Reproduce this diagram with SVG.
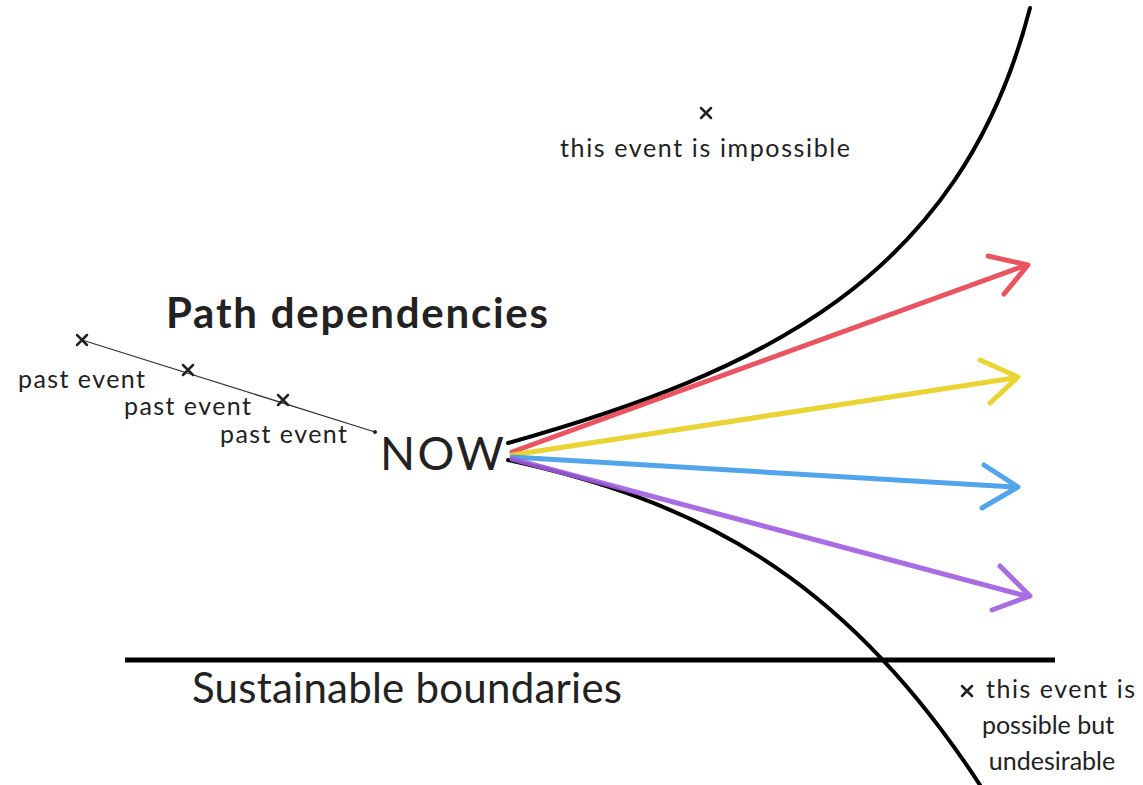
<svg xmlns="http://www.w3.org/2000/svg" width="1143" height="785" viewBox="0 0 1143 785">
  <style>
    .t { font-family: Lato, "Open Sans", "Liberation Sans", sans-serif; fill: #222; }
    .small { font-size: 25px; }
    .curve { fill: none; stroke: #000; stroke-width: 4; stroke-linecap: round; }
    .path { fill: none; stroke-width: 5; stroke-linecap: round; stroke-linejoin: round; opacity: 0.9; }
    .mark { stroke: #222; stroke-width: 2.5; stroke-linecap: round; }
  </style>
  <rect width="1143" height="785" fill="#fff"/>

  <!-- boundary curves, horizontal limit and timelines -->
  <g id="connectors">
    <path class="curve" d="M508,443 C760,372 960,280 1030,8"/>
    <path class="curve" d="M508,460 C690,500 840,570 980,785"/>
    <line x1="125" y1="660" x2="1055" y2="660" stroke="#000" stroke-width="5"/>
    <!-- past timeline -->
    <line x1="82" y1="340" x2="375" y2="432" stroke="#333" stroke-width="1.3"/>
    <circle cx="375" cy="432" r="2" fill="#222"/>
    <!-- future paths -->
    <path class="path" stroke="#e8414f" d="M512,452 L1024,266 M988,256 L1028,265 L1004,294"/>
    <path class="path" stroke="#e8cf1e" d="M512,455 L1014,378 M980,360 L1018,377 L990,403"/>
    <path class="path" stroke="#3f9be8" d="M512,457 L1014,487 M984,465 L1018,487 L982,508"/>
    <path class="path" stroke="#a05ce0" d="M512,459 L1026,596 M1000,566 L1030,596 L992,610"/>
  </g>

  <g id="past-events">
    <path class="mark" d="M77,335 L87,345 M87,335 L77,345"/>
    <path class="mark" d="M183,365 L193,375 M193,365 L183,375"/>
    <path class="mark" d="M278,395 L288,405 M288,395 L278,405"/>
    <text class="t small" x="18" y="388" textLength="127">past event</text>
    <text class="t small" x="124" y="415" textLength="127">past event</text>
    <text class="t small" x="220" y="443" textLength="127">past event</text>
  </g>

  <g id="title">
    <text class="t" x="166" y="328" font-size="42" font-weight="bold" fill="#111" textLength="382">Path dependencies</text>
  </g>

  <g id="now">
    <text class="t" x="380" y="470" font-size="46" fill="#111" textLength="124">NOW</text>
  </g>

  <g id="boundary-label">
    <text class="t" x="192" y="703" font-size="42" fill="#111" textLength="430">Sustainable boundaries</text>
  </g>

  <g id="impossible-event">
    <path class="mark" d="M701,108 L711,118 M711,108 L701,118"/>
    <text class="t small" x="560" y="157" textLength="290">this event is impossible</text>
  </g>

  <g id="undesirable-event">
    <path class="mark" d="M962,686 L972,696 M972,686 L962,696"/>
    <text class="t small" x="986" y="698" textLength="149">this event is</text>
    <text class="t small" x="1048" y="734" text-anchor="middle">possible but</text>
    <text class="t small" x="1052" y="770" text-anchor="middle">undesirable</text>
  </g>
</svg>
